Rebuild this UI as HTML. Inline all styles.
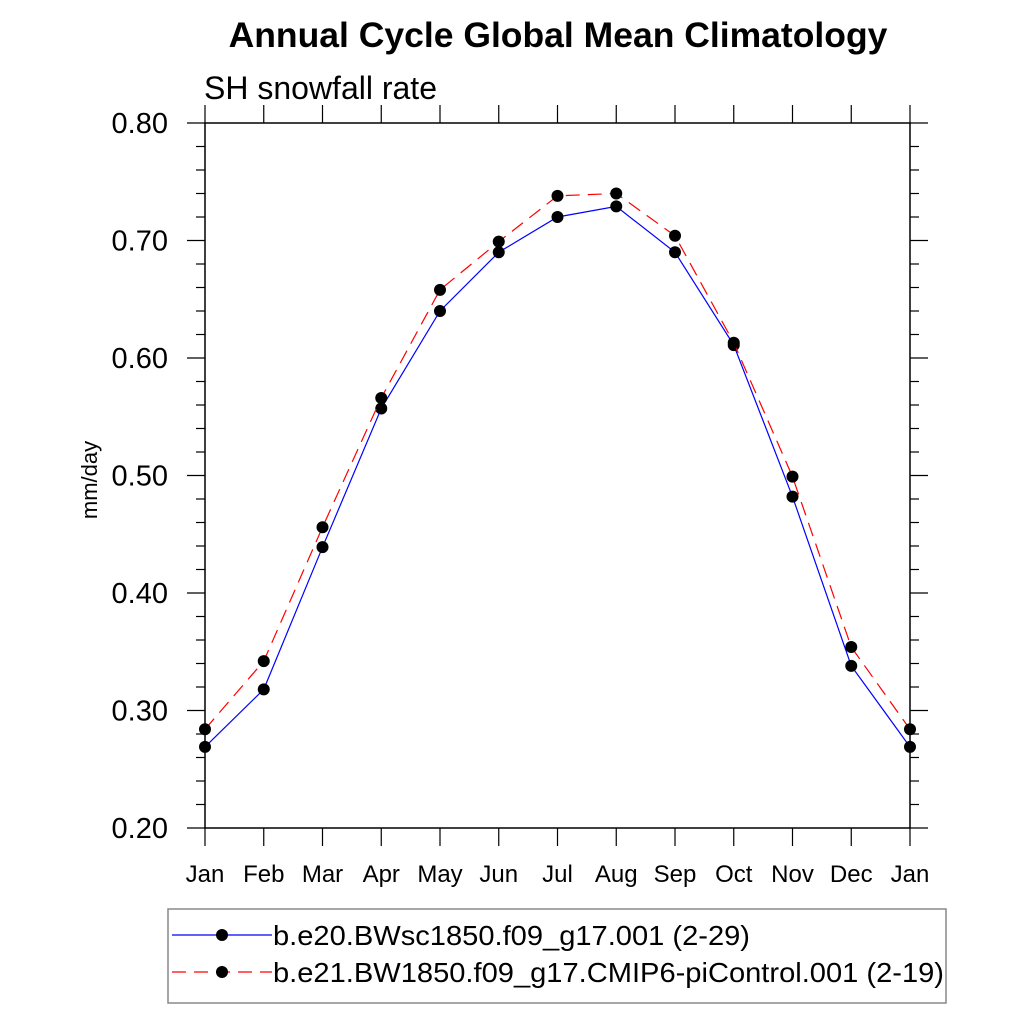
<!DOCTYPE html>
<html><head><meta charset="utf-8"><style>
body{margin:0;background:#fff}
svg{display:block;font-family:"Liberation Sans",sans-serif}
</style></head><body>
<svg id="chart" width="1024" height="1024" viewBox="0 0 1024 1024">
<text x="558" y="47" font-size="35.5" font-weight="bold" text-anchor="middle">Annual Cycle Global Mean Climatology</text>
<text x="204" y="99" font-size="32">SH snowfall rate</text>
<text transform="translate(97,480) rotate(-90)" font-size="22" text-anchor="middle">mm/day</text>
<g id="axes"></g>
<g id="series"></g>
<rect x="168" y="909" width="778" height="94" fill="none" stroke="#888" stroke-width="1.5"/>
<g>
<line x1="172" y1="935" x2="272" y2="935" stroke="#0000ff" stroke-width="1.2"/>
<circle cx="222" cy="935" r="6" fill="#000"/>
<text x="273" y="945" font-size="28" textLength="477" lengthAdjust="spacingAndGlyphs">b.e20.BWsc1850.f09_g17.001 (2-29)</text>
</g>
<g>
<line x1="172" y1="972" x2="272" y2="972" stroke="#ff0000" stroke-width="1.2" stroke-dasharray="14,8"/>
<circle cx="222" cy="972" r="6" fill="#000"/>
<text x="273" y="982" font-size="28" textLength="671" lengthAdjust="spacingAndGlyphs">b.e21.BW1850.f09_g17.CMIP6-piControl.001 (2-19)</text>
</g>
</svg>
<script>
const months=["Jan","Feb","Mar","Apr","May","Jun","Jul","Aug","Sep","Oct","Nov","Dec","Jan"];
const blueVals=[0.269,0.318,0.439,0.557,0.640,0.690,0.720,0.729,0.690,0.611,0.482,0.338,0.269];
const redVals=[0.284,0.342,0.456,0.566,0.658,0.699,0.738,0.740,0.704,0.613,0.499,0.354,0.284];
const yTicks=[0.2,0.3,0.4,0.5,0.6,0.7,0.8];
const yTickLabels=["0.20","0.30","0.40","0.50","0.60","0.70","0.80"];
const X0=205,X1=910,Y0=828,Y1=123,ymin=0.2,ymax=0.8;
const xs=i=>X0+(X1-X0)*i/(months.length-1);
const ys=v=>Y0-(v-ymin)/(ymax-ymin)*(Y0-Y1);
const NS="http://www.w3.org/2000/svg";
function mk(t,a,p){const e=document.createElementNS(NS,t);for(const k in a)e.setAttribute(k,a[k]);p.appendChild(e);return e;}
const ax=document.getElementById('axes');
const frame=mk('rect',{x:X0,y:Y1,width:X1-X0,height:Y0-Y1,fill:'none',stroke:'#000','stroke-width':1.5},ax);


for(let v=0;v<=30;v++){
  const val=ymin+v*0.02,y=ys(val),maj=v%5===0,len=maj?18:9;
  mk('line',{x1:X0-len,y1:y,x2:X0,y2:y,stroke:'#000','stroke-width':1.2},ax);
  mk('line',{x1:X1,y1:y,x2:X1+len,y2:y,stroke:'#000','stroke-width':1.2},ax);
}
yTicks.forEach((v,i)=>{
  const t=mk('text',{x:X0-37,y:ys(v)+10,'font-size':29,'text-anchor':'end'},ax);
  t.textContent=yTickLabels[i];
  
  
});
months.forEach((m,i)=>{
  const x=xs(i);
  mk('line',{x1:x,y1:Y0,x2:x,y2:Y0+18,stroke:'#000','stroke-width':1.2},ax);
  mk('line',{x1:x,y1:Y1-18,x2:x,y2:Y1,stroke:'#000','stroke-width':1.2},ax);
  const t=mk('text',{x:x,y:882,'font-size':24,'text-anchor':'middle'},ax);
  t.textContent=m;
  
  
});
const sg=document.getElementById('series');
function series(vals,color,dash,name){
  const g=mk('g',{},sg);
  
  
  const pts=vals.map((v,i)=>xs(i)+','+ys(v)).join(' ');
  const a={points:pts,fill:'none',stroke:color,'stroke-width':1.2};
  if(dash)a['stroke-dasharray']=dash;
  mk('polyline',a,g);
  vals.forEach((v,i)=>{
    const c=mk('circle',{cx:xs(i),cy:ys(v),r:6,fill:'#000'},g);
    
    
  });
}
series(blueVals,'#0000ff',null,'series-bwsc1850');
series(redVals,'#ff0000','14,8','series-bw1850-picontrol');
</script>
</body></html>
